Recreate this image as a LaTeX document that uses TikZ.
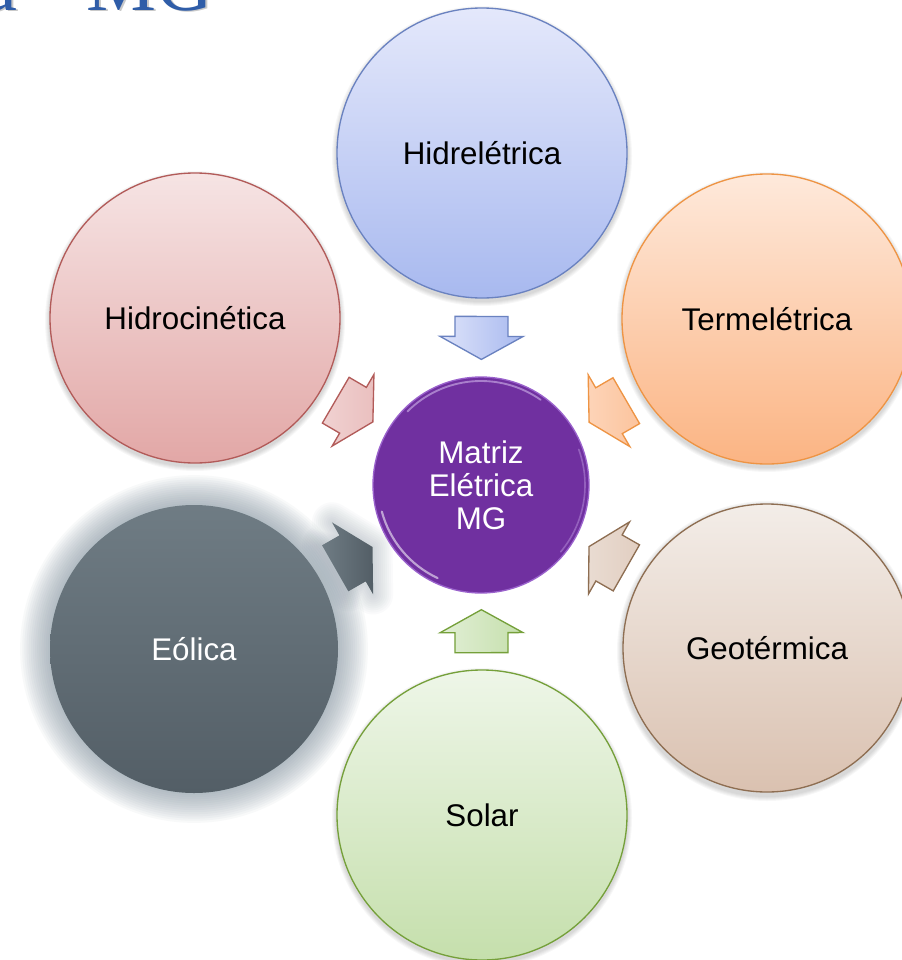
\documentclass[tikz,border=0pt]{standalone}
\usepackage{fontspec}
\setmainfont{Liberation Sans}
\newfontfamily\titlefont{Liberation Serif}
\usetikzlibrary{calc,backgrounds}

% palette
\definecolor{hidreTop}{HTML}{E4E8FB}
\definecolor{hidreBot}{HTML}{A8B9EF}
\definecolor{hidreLine}{HTML}{6A82C0}
\definecolor{hcTop}{HTML}{F6E4E4}
\definecolor{hcBot}{HTML}{E2A7A6}
\definecolor{hcLine}{HTML}{B25B59}
\definecolor{teTop}{HTML}{FEE9DB}
\definecolor{teBot}{HTML}{FBB483}
\definecolor{teLine}{HTML}{EE9444}
\definecolor{geTop}{HTML}{F3EDE8}
\definecolor{geBot}{HTML}{DAC1B0}
\definecolor{geLine}{HTML}{8E6E52}
\definecolor{soTop}{HTML}{EEF6E8}
\definecolor{soBot}{HTML}{C5DFAC}
\definecolor{soLine}{HTML}{75A03A}
\definecolor{eoTop}{HTML}{6F7C84}
\definecolor{eoBot}{HTML}{535E66}
\definecolor{hubFill}{HTML}{7030A0}
\definecolor{hubRim}{HTML}{9A62CC}
\definecolor{titleBlue}{HTML}{2F5DA8}
\definecolor{glowGray}{HTML}{7A8A98}

\tikzset{
  source/.style={circle, minimum size=217.5pt, inner sep=0pt, align=center,
    font=\fontsize{23.5}{24.75}\selectfont, text=black, line width=1pt},
  hubnode/.style={circle, minimum size=162pt, inner sep=0pt, align=center,
    font=\fontsize{23.5}{24.75}\selectfont, text=white, fill=hubFill,
    draw=hubRim, line width=1pt},
  arrowbase/.style={line width=1pt, line join=miter},
}

% block arrow placed on the line from a source circle to the hub
\newcommand\hubarrow[3]{%
  \path let \p1=($(#2)-(#1)$), \n1={atan2(\y1,\x1)} in \pgfextra{\xdef\hubangle{\n1}};
  \begin{scope}[shift={($(#1)!0.557!(#2)$)}, rotate=\hubangle]
    \path[#3] (-21.5,-26.5) -- (-1.5,-26.5) -- (-1.5,-41.5) -- (21.5,0)
      -- (-1.5,41.5) -- (-1.5,26.5) -- (-21.5,26.5) -- cycle;
  \end{scope}}

\begin{document}
\begin{tikzpicture}[x=0.75pt, y=-0.75pt]
\clip (0,0) rectangle (902,960);

% heading, cut by the top edge
\node[anchor=base west, inner sep=0pt, text=black!35, opacity=0.6,
  font=\titlefont\fontsize{59}{59}\selectfont] (titleshade) at (-16,12) {a\hspace{52pt}MG};
\node[anchor=base west, inner sep=0pt, text=titleBlue,
  font=\titlefont\fontsize{59}{59}\selectfont] (title) at (-18,10) {a\hspace{52pt}MG};

% hub and sources
\node[hubnode] (hub) at (481,485) {Matriz\\Elétrica\\MG};
\node[source, top color=hidreTop, bottom color=hidreBot, draw=hidreLine] (hidre) at (482,153) {Hidrelétrica};
\node[source, top color=hcTop, bottom color=hcBot, draw=hcLine] (hcin) at (195,318) {Hidrocinética};
\node[source, top color=teTop, bottom color=teBot, draw=teLine] (term) at (767,319) {Termelétrica};
\node[source, minimum size=216pt, top color=eoTop, bottom color=eoBot, text=white] (eol) at (194,649) {Eólica};
\node[source, minimum size=216pt, top color=geTop, bottom color=geBot, draw=geLine] (geo) at (767,648) {Geotérmica};
\node[source, top color=soTop, bottom color=soBot, draw=soLine] (sol) at (482,815) {Solar};

% glossy rim of the hub
\draw[white, opacity=0.55, line width=1.6pt, line cap=round]
  ($(hub)+(195:77pt)$) arc[start angle=195, end angle=245, radius=77pt];
\draw[hubRim!60!white, opacity=0.7, line width=1.4pt, line cap=round]
  ($(hub)+(55:78pt)$) arc[start angle=55, end angle=135, radius=78pt];
\draw[hubRim!70!white, opacity=0.5, line width=1.2pt, line cap=round]
  ($(hub)+(-40:78pt)$) arc[start angle=-40, end angle=20, radius=78pt];

% arrows into the hub
\hubarrow{hidre}{hub}{arrowbase, draw=hidreLine, left color=hidreTop!90!hidreBot, right color=hidreBot}
\hubarrow{hcin}{hub}{arrowbase, draw=hcLine, left color=hcTop!70!hcBot, right color=hcTop!40!hcBot}
\hubarrow{term}{hub}{arrowbase, draw=teLine, left color=teTop!60!teBot, right color=teTop!30!teBot}
\hubarrow{eol}{hub}{line join=miter, left color=eoTop, right color=eoBot}
\hubarrow{geo}{hub}{arrowbase, draw=geLine, left color=geTop!60!geBot, right color=geTop!30!geBot}
\hubarrow{sol}{hub}{arrowbase, draw=soLine, left color=soTop!70!soBot, right color=soBot}

% white ground, soft shadows and the glow round the wind source
\begin{scope}[on background layer]
  \fill[white] (0,0) rectangle (902,960);
  \foreach \k in {1,...,14}
    \fill[glowGray, opacity=0.05] (eol) circle[radius=108pt+\k*1.6pt];
  \foreach \w in {3,6,...,30}
    {\hubarrow{eol}{hub}{draw=glowGray, line width=\w pt, line join=round, opacity=0.035}}
  \foreach \n in {hidre,hcin,term,geo,sol}
    \foreach \k in {1,...,5}
      \fill[black, opacity=0.03] ($(\n)+(0,3)$) circle[radius=108.75pt+\k*0.75pt];
\end{scope}
\end{tikzpicture}
\end{document}
